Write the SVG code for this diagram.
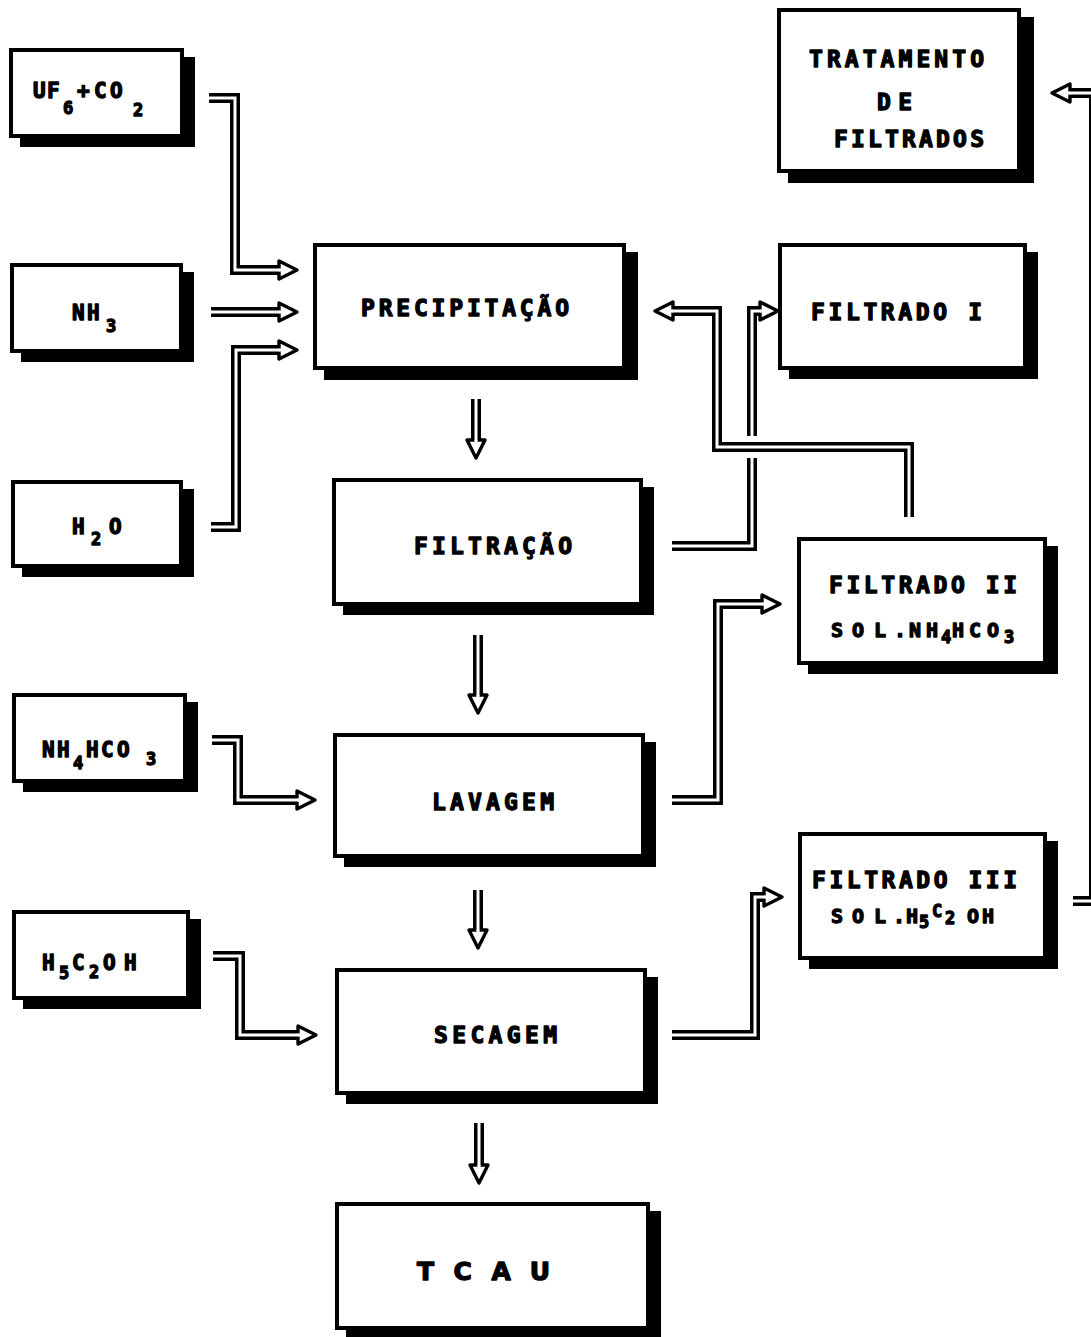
<svg xmlns="http://www.w3.org/2000/svg" width="1091" height="1337" viewBox="0 0 1091 1337">
  <style>
    .sh { fill: #000; }
    .bx { fill: #fff; stroke: #000; stroke-width: 4; }
    .t { font-family: "DejaVu Sans Mono", "Liberation Mono", monospace; font-weight: bold; font-size: 23px; fill: #000; stroke: #000; stroke-width: 1.3; stroke-linejoin: round; }
    .in { font-size: 21px; }
    .sm { font-size: 20px; }
    .sub { font-size: 17px; }
    .big { font-family: "DejaVu Sans", "Liberation Sans", sans-serif; font-size: 25px; }
    .po { fill: none; stroke: #000; stroke-width: 10; stroke-linecap: butt; stroke-linejoin: miter; }
    .pe { marker-end: url(#head); }
    .pi { fill: none; stroke: #fff; stroke-width: 3; stroke-linecap: butt; stroke-linejoin: miter; }
  </style>
  <defs>
    <!-- hollow arrowhead; the open base lets the double line run into it -->
    <marker id="head" markerUnits="userSpaceOnUse" viewBox="-3 -12 24 24" refX="0" refY="0" markerWidth="24" markerHeight="24" orient="auto" overflow="visible">
      <path d="M0,-1.5 V-9 L18,0 L0,9 V1.5" fill="#fff" stroke="#000" stroke-width="3.4" stroke-linejoin="round"/>
    </marker>
  </defs>
  <rect width="1091" height="1337" fill="#fff"/>

  <!-- double-line flow pipes -->
  <g id="connectors">
    <!-- UF6+CO2 to precipitation -->
    <path class="po pe" d="M209,98 H235 V270 H279"/>
    <path class="pi" d="M209,98 H235 V270 H280"/>
    <!-- NH3 to precipitation -->
    <path class="po pe" d="M211,312 H279"/>
    <path class="pi" d="M211,312 H280"/>
    <!-- H2O to precipitation -->
    <path class="po pe" d="M211,527 H236 V350 H279"/>
    <path class="pi" d="M211,527 H236 V350 H280"/>
    <!-- main line downwards -->
    <path class="po pe" d="M476,399 V440"/>
    <path class="pi" d="M476,399 V441"/>
    <path class="po pe" d="M478,635 V695"/>
    <path class="pi" d="M478,635 V696"/>
    <path class="po pe" d="M478,890 V930"/>
    <path class="pi" d="M478,890 V931"/>
    <path class="po pe" d="M479,1123 V1165"/>
    <path class="pi" d="M479,1123 V1166"/>
    <!-- NH4HCO3 to washing -->
    <path class="po pe" d="M212,740 H238 V800 H297"/>
    <path class="pi" d="M212,740 H238 V800 H298"/>
    <!-- ethanol to drying -->
    <path class="po pe" d="M213,956 H240 V1035 H298"/>
    <path class="pi" d="M213,956 H240 V1035 H299"/>
    <!-- filtration to filtrate I -->
    <path class="po pe" d="M672,546 H752 V311 H760"/>
    <path class="pi" d="M672,546 H752 V311 H761"/>
    <!-- filtrate II recycled to precipitation, passing over the line above -->
    <path d="M740,447 H764" fill="none" stroke="#fff" stroke-width="22"/>
    <path class="po pe" d="M909,517 V447 H717 V311 H673"/>
    <path class="pi" d="M909,517 V447 H717 V311 H672"/>
    <!-- washing to filtrate II -->
    <path class="po pe" d="M672,800 H718 V604 H762"/>
    <path class="pi" d="M672,800 H718 V604 H763"/>
    <!-- drying to filtrate III -->
    <path class="po pe" d="M672,1035 H755 V897 H764"/>
    <path class="pi" d="M672,1035 H755 V897 H765"/>
    <!-- filtrate III to filtrate treatment -->
    <path class="po pe" d="M1073,901 H1094 V93 H1070"/>
    <path class="pi" d="M1073,901 H1094 V93 H1069"/>
  </g>

  <!-- feed boxes -->
  <g id="uf6-co2">
    <rect class="sh" x="20" y="57" width="175" height="90"/>
    <rect class="bx" x="11" y="50" width="171" height="86"/>
    <text class="t in"><tspan x="33" y="98">U</tspan><tspan x="47" y="98">F</tspan><tspan class="sub" x="63" y="114">6</tspan><tspan x="77" y="98">+</tspan><tspan x="94" y="98">C</tspan><tspan x="110" y="98">O</tspan><tspan class="sub" x="133" y="116">2</tspan></text>
  </g>
  <g id="nh3">
    <rect class="sh" x="21" y="272" width="173" height="90"/>
    <rect class="bx" x="12" y="265" width="169" height="86"/>
    <text class="t in"><tspan x="72" y="320">N</tspan><tspan x="87" y="320">H</tspan><tspan class="sub" x="106" y="332">3</tspan></text>
  </g>
  <g id="h2o">
    <rect class="sh" x="22" y="489" width="172" height="88"/>
    <rect class="bx" x="13" y="482" width="168" height="84"/>
    <text class="t in"><tspan x="72" y="534">H</tspan><tspan class="sub" x="91" y="545">2</tspan><tspan x="109" y="534">O</tspan></text>
  </g>
  <g id="nh4hco3">
    <rect class="sh" x="23" y="702" width="175" height="90"/>
    <rect class="bx" x="14" y="695" width="171" height="86"/>
    <text class="t in"><tspan x="42" y="757">N</tspan><tspan x="57" y="757">H</tspan><tspan class="sub" x="73" y="769">4</tspan><tspan x="86" y="757">H</tspan><tspan x="101" y="757">C</tspan><tspan x="117" y="757">O</tspan><tspan class="sub" x="146" y="765">3</tspan></text>
  </g>
  <g id="h5c2oh">
    <rect class="sh" x="23" y="919" width="178" height="90"/>
    <rect class="bx" x="14" y="912" width="174" height="86"/>
    <text class="t in"><tspan x="42" y="970">H</tspan><tspan class="sub" x="59" y="979">5</tspan><tspan x="72" y="970">C</tspan><tspan class="sub" x="89" y="978">2</tspan><tspan x="103" y="970">O</tspan><tspan x="124" y="970">H</tspan></text>
  </g>

  <!-- process steps -->
  <g id="precipitacao">
    <rect class="sh" x="324" y="252" width="314" height="128"/>
    <rect class="bx" x="315" y="245" width="309" height="123"/>
    <text class="t" x="361" y="316" textLength="208" lengthAdjust="spacing">PRECIPITAÇÃO</text>
  </g>
  <g id="filtracao">
    <rect class="sh" x="343" y="487" width="311" height="128"/>
    <rect class="bx" x="334" y="480" width="307" height="124"/>
    <text class="t" x="414" y="554" textLength="158" lengthAdjust="spacing">FILTRAÇÃO</text>
  </g>
  <g id="lavagem">
    <rect class="sh" x="344" y="742" width="312" height="125"/>
    <rect class="bx" x="335" y="735" width="308" height="121"/>
    <text class="t" x="432" y="810" textLength="122" lengthAdjust="spacing">LAVAGEM</text>
  </g>
  <g id="secagem">
    <rect class="sh" x="346" y="977" width="312" height="127"/>
    <rect class="bx" x="337" y="970" width="308" height="123"/>
    <text class="t" x="434" y="1043" textLength="123" lengthAdjust="spacing">SECAGEM</text>
  </g>
  <g id="tcau">
    <rect class="sh" x="346" y="1211" width="315" height="128"/>
    <rect class="bx" x="337" y="1204" width="311" height="124"/>
    <text class="t big" x="417" y="1280" textLength="133" lengthAdjust="spacing">TCAU</text>
  </g>

  <!-- filtrate boxes -->
  <g id="tratamento-filtrados">
    <rect class="sh" x="788" y="17" width="246" height="166"/>
    <rect class="bx" x="779" y="10" width="240" height="161"/>
    <text class="t" x="809" y="67" textLength="175" lengthAdjust="spacing">TRATAMENTO</text>
    <text class="t" x="877" y="110" textLength="35" lengthAdjust="spacing">DE</text>
    <text class="t" x="834" y="147" textLength="150" lengthAdjust="spacing">FILTRADOS</text>
  </g>
  <g id="filtrado-1">
    <rect class="sh" x="789" y="252" width="249" height="127"/>
    <rect class="bx" x="780" y="245" width="245" height="123"/>
    <text class="t" x="811" y="320" textLength="171" lengthAdjust="spacing">FILTRADO I</text>
  </g>
  <g id="filtrado-2">
    <rect class="sh" x="808" y="546" width="250" height="128"/>
    <rect class="bx" x="799" y="539" width="246" height="124"/>
    <text class="t" x="829" y="593" textLength="188" lengthAdjust="spacing">FILTRADO II</text>
    <text class="t sm"><tspan x="831" y="637">S</tspan><tspan x="852" y="637">O</tspan><tspan x="874" y="637">L</tspan><tspan x="894" y="637">.</tspan><tspan x="909" y="637">N</tspan><tspan x="926" y="637">H</tspan><tspan class="sub" x="941" y="643">4</tspan><tspan x="952" y="637">H</tspan><tspan x="969" y="637">C</tspan><tspan x="987" y="637">O</tspan><tspan class="sub" x="1004" y="643">3</tspan></text>
  </g>
  <g id="filtrado-3">
    <rect class="sh" x="809" y="841" width="249" height="128"/>
    <rect class="bx" x="800" y="834" width="245" height="124"/>
    <text class="t" x="812" y="888" textLength="205" lengthAdjust="spacing">FILTRADO III</text>
    <text class="t sm"><tspan x="831" y="923">S</tspan><tspan x="852" y="923">O</tspan><tspan x="874" y="923">L</tspan><tspan x="893" y="923">.</tspan><tspan x="906" y="923">H</tspan><tspan class="sub" x="919" y="928">5</tspan><tspan class="sub" x="932" y="917">C</tspan><tspan class="sub" x="945" y="924">2</tspan><tspan x="967" y="923">O</tspan><tspan x="982" y="923">H</tspan></text>
  </g>
</svg>
